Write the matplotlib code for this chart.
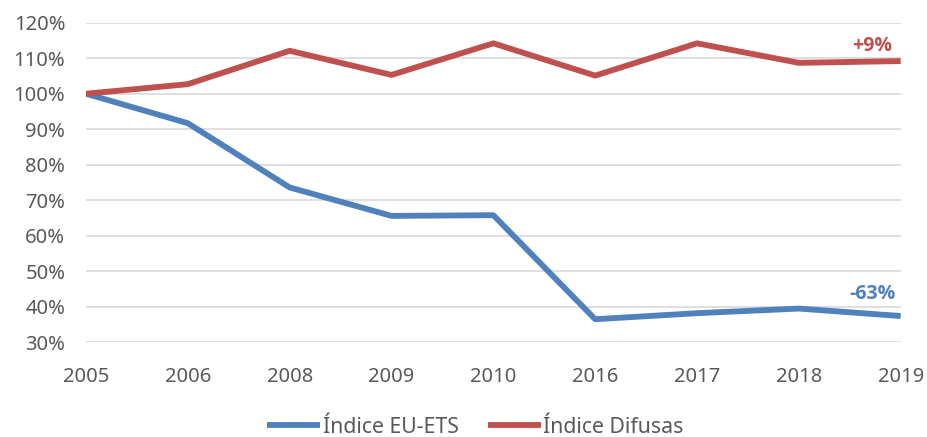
import matplotlib.pyplot as plt
import numpy as np
from matplotlib.ticker import FuncFormatter

plt.rcParams['font.family'] = ['Noto Sans', 'DejaVu Sans']

years = ['2005', '2006', '2008', '2009', '2010', '2016', '2017', '2018', '2019']
eu_ets = [100, 91.7, 73.6, 65.6, 65.8, 36.5, 38.2, 39.5, 37.4]
difusas = [100, 102.7, 112.1, 105.3, 114.2, 105.1, 114.2, 108.7, 109.2]

blue = '#4F81BD'
red = '#C0504D'
grey = '#595959'

fig = plt.figure(figsize=(9.27, 4.37), dpi=100)
ax = fig.add_axes([0.0928, 0.2167, 0.8788, 0.7313])

x = np.arange(len(years))
ax.plot(x, eu_ets, color=blue, lw=4.2, label='Índice EU-ETS', solid_capstyle='butt')
ax.plot(x, difusas, color=red, lw=4.2, label='Índice Difusas', solid_capstyle='butt')

ax.text(7.72, 113.4, '+9%', color=red, fontsize=14, fontweight='bold',
        family=['Open Sans', 'DejaVu Sans'], ha='center', va='center')
ax.text(7.72, 43.6, '-63%', color=blue, fontsize=14, fontweight='bold',
        family=['Open Sans', 'DejaVu Sans'], ha='center', va='center')

ax.set_xlim(0, len(years) - 1)
ax.set_ylim(30, 120)
ax.set_xticks(x)
ax.set_xticklabels(years)
ax.set_yticks(np.arange(30, 121, 10))
ax.yaxis.set_major_formatter(FuncFormatter(lambda v, p: f'{v:.0f}%'))
ax.grid(axis='y', color='#D9D9D9', lw=1.2)
ax.set_axisbelow(True)
for s in ax.spines.values():
    s.set_visible(False)
ax.tick_params(axis='both', length=0, labelsize=14.5, colors=grey)
ax.tick_params(axis='x', pad=18)
ax.tick_params(axis='y', pad=15)

fig.legend(loc='lower center', bbox_to_anchor=(0.513, -0.045), ncol=2, frameon=False,
           fontsize=15.3, handlelength=2.5, handletextpad=0.1, columnspacing=1.4,
           labelcolor=grey)

fig.savefig('out.png', dpi=100)
